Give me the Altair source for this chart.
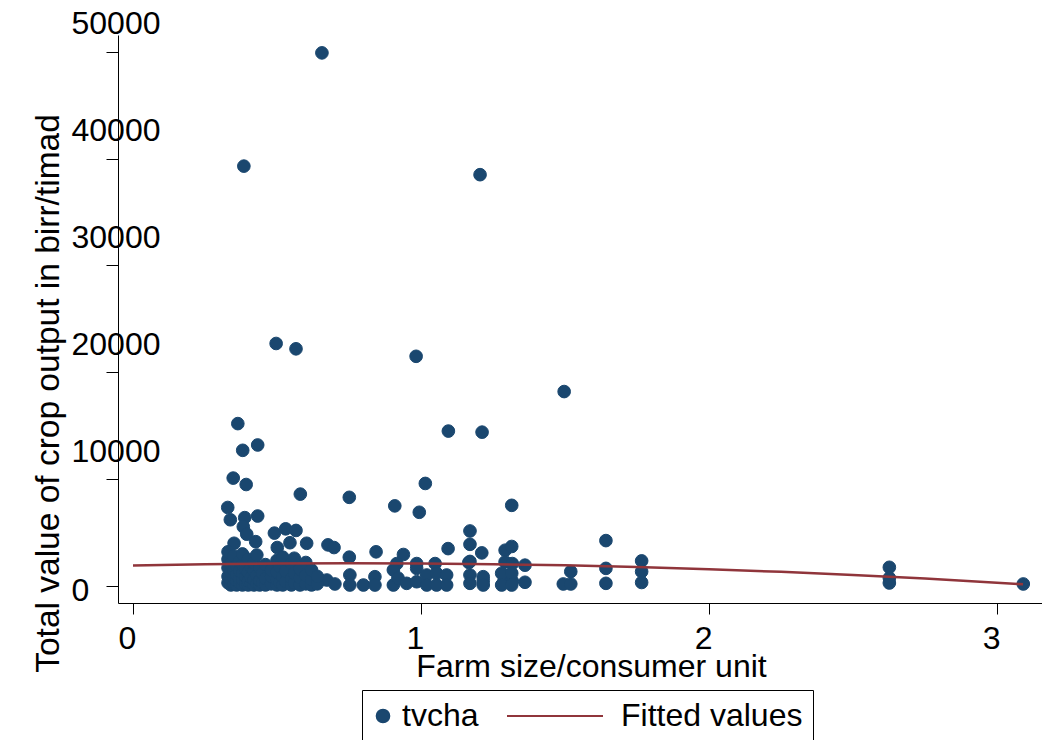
import altair as alt
import pandas as pd

# ---- data ----
farm_size = [
    0.656, 0.385, 1.205, 0.497, 0.566, 0.983, 1.497, 0.364, 0.433, 0.381,
    1.095, 1.212, 0.348, 0.393, 1.015, 0.581, 0.751, 0.909, 0.994, 1.315,
    0.329, 0.338, 0.388, 0.433, 0.383, 0.395, 0.426, 0.351, 0.491, 0.530,
    0.566, 0.545, 0.501, 0.603, 0.677, 0.698, 0.751, 0.844, 0.939, 1.094,
    1.170, 1.170, 1.211, 1.049, 1.166, 1.292, 1.315, 0.916, 0.985, 1.292,
    1.361, 1.642, 1.642, 1.642, 1.766, 1.766, 1.766, 1.494, 1.520, 1.520,
    2.626, 2.626, 2.626, 3.091, 1.288, 1.317, 1.361, 1.216, 1.317, 1.170,
    0.673, 0.701, 0.753, 0.753, 0.800, 0.840, 0.840, 0.904, 0.904, 0.920,
    0.950, 0.985, 0.985, 1.020, 1.020, 1.054, 1.054, 1.089, 1.089, 1.170,
    1.170, 1.216, 1.216, 1.280, 1.280, 1.315, 1.315,
    0.33, 0.33, 0.33, 0.33, 0.33, 0.34, 0.34, 0.34, 0.34,
    0.35, 0.35, 0.35, 0.35, 0.36, 0.36, 0.36, 0.36,
    0.37, 0.37, 0.37, 0.37, 0.38, 0.38, 0.38, 0.38, 0.38,
    0.39, 0.39, 0.39, 0.40, 0.40, 0.40, 0.40, 0.41, 0.41, 0.41,
    0.42, 0.42, 0.42, 0.42, 0.43, 0.43, 0.43, 0.44, 0.44, 0.44,
    0.45, 0.45, 0.46, 0.46, 0.46, 0.48, 0.48, 0.48,
    0.50, 0.50, 0.50, 0.50, 0.51, 0.51, 0.52, 0.52, 0.52, 0.53, 0.53,
    0.55, 0.55, 0.55, 0.56, 0.56, 0.56, 0.58, 0.58, 0.58,
    0.60, 0.60, 0.60, 0.62, 0.62, 0.62, 0.64, 0.64,
]
crop_value = [
    49900, 39300, 38500, 22700, 22200, 21500, 18200, 15200, 13200, 12700,
    14500, 14400, 10100, 9500, 9600, 8600, 8300, 7500, 6900, 7550,
    7350, 6200, 6400, 6550, 5550, 4850, 4150, 4000, 4950, 5350,
    5200, 4050, 3600, 4000, 3850, 3600, 2700, 3200, 2950, 3500,
    5150, 3900, 3100, 2100, 2200, 3350, 3700, 2100, 2100, 2250,
    1950, 4250, 1650, 250, 2350, 1350, 330, 190, 1350, 190,
    1750, 750, 280, 190, 440, 440, 350, 500, 2100, 2300,
    560, 190, 1030, 90, 90, 870, 90, 1500, 90, 750,
    250, 1650, 400, 1030, 90, 1190, 90, 1030, 90, 1030,
    250, 870, 90, 1190, 90, 1190, 90,
    300, 900, 1700, 2500, 3200, 100, 600, 1300, 2100,
    200, 800, 1500, 2800, 100, 500, 1100, 1900,
    300, 700, 1400, 2300, 100, 600, 1200, 2000, 3000,
    200, 900, 1600, 100, 500, 1300, 2500, 300, 800, 1800,
    100, 600, 1400, 2200, 200, 1000, 2900, 100, 500, 1700,
    300, 1200, 100, 700, 2000, 200, 900, 1500,
    100, 600, 1300, 2400, 300, 1800, 100, 900, 2700, 400, 1400,
    100, 700, 2100, 300, 1200, 2600, 100, 800, 1600,
    200, 1000, 2200, 100, 600, 1500, 200, 900,
]
fit_x = [0, 0.25, 0.5, 0.75, 1.0, 1.25, 1.5, 1.75, 2.0, 2.25, 2.5, 2.75, 3.09]
fit_y = [1920, 2036, 2106, 2131, 2111, 2045, 1933, 1777, 1574, 1326, 1033, 694, 161]
x_ticks = [0, 1, 2, 3]
y_ticks = [0, 10000, 20000, 30000, 40000, 50000]
series_names = ["tvcha", "Fitted values"]

BLUE = "#1a476f"
RED = "#90353b"
FONT = "Liberation Sans"

pts = pd.DataFrame({"x": farm_size, "y": crop_value, "series": "tvcha"})
fit = pd.DataFrame({"x": fit_x, "y": fit_y})

xscale = alt.Scale(domain=[-0.052, 3.156], nice=False, zero=False)
yscale = alt.Scale(domain=[-1591, 51574], nice=False, zero=False)

xaxis = alt.Axis(
    values=x_ticks, format="d", title="Farm size/consumer unit", grid=False,
    tickSize=11, tickColor="black", domainColor="black", tickWidth=1, domainWidth=1,
    labelFont=FONT, labelFontSize=32, labelColor="black", labelAlign="center",
    labelOffset=-6, labelPadding=9, labelFlush=False, labelOverlap=False,
    titleFont=FONT, titleFontSize=32, titleFontWeight="normal", titleColor="black",
    titleX=473, titleY=73, titleBaseline="alphabetic", titleAlign="center",
)
yaxis = alt.Axis(
    values=y_ticks, format="d", title="Total value of crop output in birr/timad", grid=False,
    tickSize=12, tickColor="black", domainColor="black", tickWidth=1, domainWidth=1,
    labelFont=FONT, labelFontSize=32, labelColor="black", labelAlign="left",
    labelBaseline="middle", labelPadding=35, labelFlush=False, labelOverlap=False,
    labelOffset={"condition": {"test": "datum.value == 0", "value": 4}, "value": -28},
    titleFont=FONT, titleFontSize=33.5, titleFontWeight="normal", titleColor="black",
    titleAngle=270, titleX=-70, titleY=358, titleBaseline="middle", titleAlign="center",
)

leg = alt.Legend(
    title=None, orient="none", legendX=244, legendY=655, direction="horizontal",
    labelFont=FONT, labelFontSize=32, labelColor="black", strokeColor="black",
    padding=10, columnPadding=28, symbolOffset=-5,
    labelOffset=alt.ExprRef(expr="datum.index == 1 ? 17 : 3"),
    symbolStrokeWidth=2, clipHeight=32, labelLimit=500,
)

points = alt.Chart(pts).mark_point(filled=True, opacity=1, strokeWidth=1).encode(
    x=alt.X("x:Q", scale=xscale, axis=xaxis),
    y=alt.Y("y:Q", scale=yscale, axis=yaxis),
    color=alt.Color("series:N", scale=alt.Scale(domain=series_names, range=[BLUE, RED]), legend=leg),
    stroke=alt.Stroke("series:N", scale=alt.Scale(domain=series_names, range=[BLUE, RED]), legend=leg),
    shape=alt.Shape("series:N", scale=alt.Scale(domain=series_names, range=["circle", "stroke"]), legend=leg),
    size=alt.Size("series:N", scale=alt.Scale(type="ordinal", domain=series_names, range=[160, 10000]), legend=leg),
)

line = alt.Chart(fit).mark_line(color=RED, strokeWidth=2.5).encode(
    x=alt.X("x:Q", scale=xscale, axis=xaxis),
    y=alt.Y("y:Q", scale=yscale, axis=yaxis),
)

chart = alt.layer(points, line).properties(
    width=924, height=568,
    autosize=alt.AutoSizeParams(type="none"),
    padding={"left": 110, "top": 27, "right": 0, "bottom": 137},
    background="white",
).configure_view(stroke=None)

chart.save("out.html", embed_options={"renderer": "svg", "actions": False})
